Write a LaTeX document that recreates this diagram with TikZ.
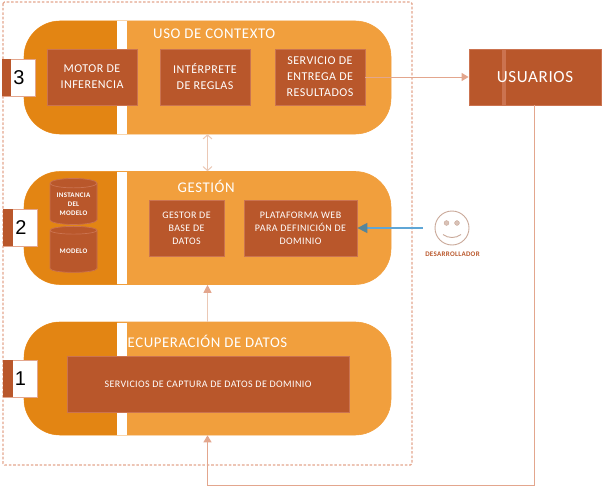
\documentclass[tikz,border=0pt]{standalone}
\usepackage{fontspec}
\setmainfont[LetterSpace=4]{Carlito}
\newfontfamily\numfont{Liberation Sans}
\usetikzlibrary{arrows.meta,shapes.geometric,calc}
\definecolor{darkor}{HTML}{E38513}
\definecolor{lightor}{HTML}{F19F3D}
\definecolor{brick}{HTML}{B9572B}
\definecolor{brickedge}{HTML}{CB7350}
\definecolor{linec}{HTML}{E3A68D}
\definecolor{linepale}{HTML}{EBC8B5}
\definecolor{bluec}{HTML}{5FA6D6}
\definecolor{tipblue}{HTML}{55859B}
\definecolor{facec}{HTML}{C9A898}
\tikzset{
  band/.style={fill=lightor,draw=lightor,line width=.6pt,rounded corners=36pt,minimum width=367pt,minimum height=113pt,inner sep=0pt},
  boxx/.style={fill=brick,draw=brickedge,line width=.8pt,text=white,align=center,inner sep=0pt,font=\fontsize{12}{16}\selectfont},
  title/.style={text=white,inner sep=0pt,font=\fontsize{14.8}{16}\selectfont},
  numbox/.style={fill=white,draw=linec,line width=.6pt,minimum height=37pt,inner sep=0pt},
  numtxt/.style={text=black,inner sep=0pt,font=\numfont\fontsize{20}{22}\selectfont},
  numstrip/.style={fill=brick,inner sep=0pt,minimum height=37pt},
  cyl/.style={shape=cylinder,shape border rotate=90,aspect=.28,fill=brick,draw=brickedge,cylinder uses custom fill,cylinder body fill=brick,cylinder end fill=brick,line width=.7pt,minimum width=47pt,minimum height=46pt,inner sep=0pt,text=white,align=center,font=\bfseries\fontsize{7}{9}\selectfont},
  link/.style={draw=linec,line width=1pt},
  linktip/.style={-{Triangle[length=7pt,width=8pt,fill=linec,color=linec]}},
  frame/.style={draw=linec,line width=1.3pt,dash pattern=on 2.6pt off 1.8pt,rounded corners=1.5pt},
}
\begin{document}
\begin{tikzpicture}[x=1pt,y=-1pt]
\useasboundingbox (0,0) rectangle (602,487);
\path[frame] (3,2) rectangle (412,465);
% bands
\foreach \nm/\cy in {uso/77.5,ges/228,rec/378.5}{
  \node[band] (\nm) at (207.5,\cy) {};
  \begin{scope}
    \clip (24,\cy-60) rectangle (117,\cy+60);
    \fill[darkor,rounded corners=36pt] (24,\cy-56.5) rectangle (300,\cy+56.5);
  \end{scope}
  \fill[white] (117,\cy-56) rectangle (127,\cy+56);
}
% titles
\node[title,anchor=west] (t1) at (153,34) {USO DE CONTEXTO};
\node[title,anchor=west] (t2) at (177.5,186) {GESTIÓN};
\node[title,anchor=west] (t3) at (127.5,341) {ECUPERACIÓN DE DATOS};
% boxes
\node[boxx,minimum width=90pt,minimum height=56pt] (motor) at (92,77) {MOTOR DE\\INFERENCIA};
\node[boxx,minimum width=90pt,minimum height=56pt] (inter) at (205,77) {INTÉRPRETE\\DE REGLAS};
\node[boxx,minimum width=90pt,minimum height=56pt] (serv) at (320,77) {SERVICIO DE\\ENTREGA DE\\RESULTADOS};
\node[boxx,minimum width=75pt,minimum height=56pt,font=\fontsize{10}{13}\selectfont] (gestor) at (186.5,228) {GESTOR DE\\BASE DE\\DATOS};
\node[boxx,minimum width=113pt,minimum height=56pt,font=\fontsize{10}{13}\selectfont] (plat) at (300.5,228) {PLATAFORMA WEB\\PARA DEFINICIÓN DE\\DOMINIO};
\node[boxx,minimum width=282pt,minimum height=56pt,font=\fontsize{10}{11}\selectfont] (capt) at (208,384) {SERVICIOS DE CAPTURA DE DATOS DE DOMINIO};
\node[cyl] (inst) at (73.5,204) {INSTANCIA\\DEL\\MODELO};
\node[cyl] (mod) at (73.5,251.5) {MODELO};
% usuarios
\node[boxx,minimum width=132pt,minimum height=56pt] (usu) at (535,77) {};
\fill[brickedge] (502,49.5) rectangle (505.5,104.5);
\node[text=white,inner sep=0pt,font=\fontsize{17}{20}\selectfont] (usut) at (usu.center) {USUARIOS};
% number tabs
\node[numbox,minimum width=33pt] (n3) at (18.5,77.5) {};
\node[numstrip,minimum width=9pt] (s3) at (6.5,77.5) {};
\node[numtxt] (d3) at (19,78) {3};
\node[numbox,minimum width=34pt] (n2) at (20,227.5) {};
\node[numstrip,minimum width=9.5pt] (s2) at (7.75,227.5) {};
\node[numtxt] (d2) at (21,228) {2};
\node[numbox,minimum width=34pt] (n1) at (20,378.5) {};
\node[numstrip,minimum width=9.5pt] (s1) at (7.75,378.5) {};
\node[numtxt] (d1) at (20.5,379) {1};
% smiley
\node[circle,draw=facec,line width=.9pt,fill=white,minimum size=34pt,inner sep=0pt] (dev) at (452,228) {};
\fill[facec!70,draw=facec] (446.5,223) circle (2.4pt) (457,223) circle (2.4pt);
\draw[facec,line width=.9pt] (443,234.5) .. controls (448,238.5) and (456,238.5) .. (461,234.5);
\node[text=brick,inner sep=0pt,font=\bfseries\fontsize{7}{8}\selectfont] (devt) at (452.5,254.5) {DESARROLLADOR};
% connectors
\coordinate (devout) at (422.5,228);
\coordinate (codo) at (534.5,485);
\draw[link,linktip] (serv.east) -- (usu.west);
\draw[draw=bluec,line width=1.6pt,-{Triangle[length=10pt,width=10pt,fill=tipblue,color=tipblue]}] (devout) -- (plat.east);
\draw[draw=linepale,line width=1pt,{Straight Barb[length=4pt,width=9pt,color=linepale]}-{Straight Barb[length=4pt,width=9pt,color=linepale]}] (uso.south) -- (ges.north);
\draw[draw=linepale,line width=1pt,-{Triangle[length=8pt,width=8pt,fill=linec,color=linec]}] (rec.north) -- (ges.south);
\draw[link,line width=1pt,linktip] (usu.south -| codo) -- (codo) -| (rec.south);
\end{tikzpicture}
\end{document}
